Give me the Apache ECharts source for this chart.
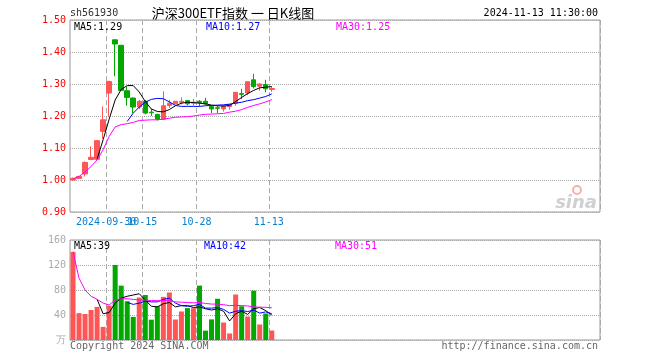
<!DOCTYPE html>
<html><head><meta charset="utf-8">
<script src="https://cdn.jsdelivr.net/npm/echarts@6/dist/echarts.min.js"></script>
<style>html,body{margin:0;padding:0;background:#fff}#c{width:660px;height:360px}</style>
</head><body><div id="c"></div>
<script>
// ---- data ----
const dates = ['2024-09-20','2024-09-23','2024-09-24','2024-09-25','2024-09-26','2024-09-27','2024-09-30',
  '2024-10-08','2024-10-09','2024-10-10','2024-10-11','2024-10-14','2024-10-15','2024-10-16','2024-10-17','2024-10-18',
  '2024-10-21','2024-10-22','2024-10-23','2024-10-24','2024-10-25','2024-10-28','2024-10-29','2024-10-30','2024-10-31',
  '2024-11-01','2024-11-04','2024-11-05','2024-11-06','2024-11-07','2024-11-08','2024-11-11','2024-11-12','2024-11-13'];
const opens  = [1.000,1.005,1.019,1.064,1.065,1.152,1.272,1.438,1.421,1.279,1.256,1.228,1.246,1.212,1.205,1.190,1.233,1.238,1.243,1.248,1.240,1.246,1.246,1.230,1.226,1.222,1.230,1.240,1.270,1.272,1.313,1.293,1.298,1.283];
const closes = [1.005,1.011,1.055,1.071,1.123,1.188,1.308,1.425,1.280,1.258,1.228,1.246,1.209,1.210,1.190,1.232,1.240,1.246,1.246,1.238,1.243,1.242,1.238,1.222,1.224,1.231,1.236,1.274,1.268,1.307,1.292,1.300,1.285,1.286];
const lows   = [0.998,1.003,1.011,1.062,1.060,1.129,1.199,1.324,1.278,1.232,1.209,1.222,1.205,1.200,1.186,1.188,1.225,1.236,1.236,1.233,1.232,1.230,1.234,1.209,1.209,1.214,1.220,1.232,1.253,1.265,1.286,1.279,1.274,1.276];
const highs  = [1.008,1.013,1.058,1.105,1.125,1.230,1.310,1.440,1.421,1.292,1.258,1.250,1.250,1.222,1.207,1.277,1.250,1.247,1.258,1.250,1.253,1.250,1.257,1.232,1.233,1.234,1.238,1.275,1.285,1.308,1.332,1.302,1.313,1.291];
const priceMA5  = ['-','-','-','-',1.065,1.126,1.190,1.250,1.283,1.295,1.295,1.275,1.245,1.222,1.214,1.213,1.220,1.232,1.240,1.243,1.242,1.240,1.238,1.234,1.232,1.231,1.233,1.245,1.258,1.270,1.280,1.288,1.290,1.292];
const priceMA10 = ['-','-','-','-','-','-','-','-','-',1.183,1.209,1.228,1.243,1.252,1.255,1.254,1.244,1.233,1.230,1.230,1.230,1.230,1.232,1.233,1.234,1.235,1.237,1.240,1.243,1.248,1.251,1.256,1.261,1.269];
const priceMA30 = [1.004,1.011,1.025,1.042,1.063,1.095,1.136,1.166,1.173,1.176,1.180,1.186,1.187,1.188,1.188,1.190,1.193,1.196,1.197,1.198,1.200,1.203,1.205,1.206,1.207,1.208,1.212,1.215,1.220,1.227,1.233,1.238,1.244,1.251];
const volumes = [141,43,41.6,48,53,21,55,120,87,62,37,68,72,32.5,54,69,76,32.8,45.6,51,51,87,15,33,66,28,10.4,72.8,54,37.6,79,24.8,42.4,15.2];
const volMA5  = ['-','-','-','-',65,42,44,59,67,70,72,74,64,54,53,58,60,53,55,55,52,53,50,48,50,46,30.5,42,46,41,50,52,47,40];
const volMA10 = ['-','-','-','-','-','-','-','-','-',60,57,59,62,61,61,65,67,59,55,54,55,57,51,51,52,49,43,46,47,45.5,48,43,45,42];
const volMA30 = [141,99,80,70,65,59,56,64,66,66,65,64,64,63,63,63,63,61,60.5,60,59.5,60,58.5,57.5,57.5,56.5,55,55.5,55,54.5,53,52.5,52.3,51.5];
const tickDates = ['2024-09-30','2024-10-15','2024-10-28','2024-11-13'];
const tickTexts = ['2024-09-30','10-15','10-28','11-13'];
const priceTicks = [0.90,1.50,0.10];
const volTicks = [0,160,40];
const priceMALabels = ['MA5:1.29','MA10:1.27','MA30:1.25'];
const volMALabels = ['MA5:39','MA10:42','MA30:51'];
const headerLeft = 'sh561930';
const headerTitle = '沪深300ETF指数 一 日K线图';
const headerTime = '2024-11-13 11:30:00';
const footLeft = 'Copyright 2024 SINA.COM';
const footRight = 'http://finance.sina.com.cn';

// ---- styling ----
const SLOTS = 88;
const RED = '#ff5555', GREEN = '#00a800';
const MONO = '"DejaVu Sans Mono", "Liberation Mono", monospace';
const axisCats = dates.concat(new Array(SLOTS - dates.length).fill(''));
const tickSet = {};
tickDates.forEach((d, i) => { tickSet[d] = tickTexts[i]; });
const showTick = (idx, val) => tickSet[val] !== undefined;
// labels split over two stacked axes so overlapping labels are both drawn
const firstOnly = (idx, val) => val === tickDates[0];
const restOnly = (idx, val) => tickSet[val] !== undefined && val !== tickDates[0];

const candleData = dates.map((d, i) => [opens[i], closes[i], lows[i], highs[i]]);
const volData = volumes.map((v, i) => ({ value: v, itemStyle: { color: closes[i] >= opens[i] ? RED : GREEN } }));

function xAx(grid, labelFn, splitFn) {
  return {
    type: 'category', gridIndex: grid, data: axisCats, boundaryGap: true, position: 'bottom', offset: 0,
    axisLine: { show: false }, axisTick: { show: false },
    axisLabel: {
      show: !!labelFn, interval: labelFn || showTick, formatter: v => tickSet[v] || '', hideOverlap: false,
      color: '#0a7fd0', fontFamily: MONO, fontSize: 10, margin: 5, padding: [0, 6, 0, 0]
    },
    splitLine: { show: !!splitFn, interval: splitFn || showTick, lineStyle: { color: '#aaa', type: [5, 3], width: 1 } }
  };
}
function maLine(name, data, color, x, y) {
  return { name, type: 'line', data, xAxisIndex: x, yAxisIndex: y, showSymbol: false, symbol: 'none',
    lineStyle: { color, width: 1 }, itemStyle: { color }, animation: false, z: 5 };
}
function txt(x, y, text, color, opts) {
  return { type: 'text', x, y, style: Object.assign({ text, fill: color, font: '10px ' + MONO, textVerticalAlign: 'middle' }, opts || {}), z: 100 };
}

const chart = echarts.init(document.getElementById('c'), null, { renderer: 'canvas' });
chart.setOption({
  animation: false,
  backgroundColor: '#fff',
  grid: [
    { left: 70, top: 20, width: 530, height: 192, show: true, borderColor: '#999', borderWidth: 1, backgroundColor: 'transparent' },
    { left: 70, top: 240, width: 530, height: 100, show: true, borderColor: '#999', borderWidth: 1, backgroundColor: 'transparent' }
  ],
  xAxis: [xAx(0, restOnly, showTick), xAx(1, null, showTick), xAx(0, firstOnly, null)],
  yAxis: [
    { type: 'value', gridIndex: 0, min: priceTicks[0], max: priceTicks[1], interval: priceTicks[2],
      axisLine: { show: false }, axisTick: { show: false },
      axisLabel: { color: '#ff0000', fontFamily: MONO, fontSize: 10, margin: 4, formatter: v => v.toFixed(2) },
      splitLine: { show: true, lineStyle: { color: '#aaa', type: [1, 1], width: 1 } } },
    { type: 'value', gridIndex: 1, min: volTicks[0], max: volTicks[1], interval: volTicks[2],
      axisLine: { show: false }, axisTick: { show: false },
      axisLabel: { color: '#aaa', fontFamily: MONO, fontSize: 10, margin: 4, formatter: v => v === 0 ? '万' : String(v) },
      splitLine: { show: true, lineStyle: { color: '#aaa', type: [1, 1], width: 1 } } }
  ],
  series: [
    { type: 'candlestick', data: candleData, xAxisIndex: 0, yAxisIndex: 0, barWidth: 5,
      itemStyle: { color: RED, color0: GREEN, borderColor: RED, borderColor0: GREEN, borderWidth: 1 }, z: 3 },
    maLine('MA5', priceMA5, '#000000', 0, 0),
    maLine('MA10', priceMA10, '#0000ff', 0, 0),
    maLine('MA30', priceMA30, '#ff00ff', 0, 0),
    { type: 'bar', data: volData, xAxisIndex: 1, yAxisIndex: 1, barWidth: 5, z: 3 },
    maLine('VMA5', volMA5, '#000000', 1, 1),
    maLine('VMA10', volMA10, '#0000ff', 1, 1),
    maLine('VMA30', volMA30, '#ff00ff', 1, 1)
  ],
  graphic: [
    txt(70, 13, headerLeft, '#333'),
    { type: 'text', x: 233, y: 13, style: { text: headerTitle, fill: '#000', font: '13px "Noto Sans CJK SC"', textAlign: 'center', textVerticalAlign: 'middle' }, z: 100 },
    txt(598, 13, headerTime, '#000', { textAlign: 'right' }),
    txt(74, 27, priceMALabels[0], '#000'),
    txt(206, 27, priceMALabels[1], '#0000ff'),
    txt(336, 27, priceMALabels[2], '#ff00ff'),
    txt(74, 246, volMALabels[0], '#000'),
    txt(204, 246, volMALabels[1], '#0000ff'),
    txt(335, 246, volMALabels[2], '#ff00ff'),
    txt(70, 346, footLeft, '#666'),
    txt(598, 346, footRight, '#666', { textAlign: 'right' }),
    { type: 'text', x: 597, y: 203, style: { text: 'sina', fill: '#d0d0d0', font: 'italic bold 18px "DejaVu Sans"', textAlign: 'right', textVerticalAlign: 'middle' }, z: 1 },
    { type: 'circle', shape: { cx: 577, cy: 190, r: 4 }, style: { fill: 'none', stroke: '#f5b0b0', lineWidth: 2 }, z: 1 }
  ]
});
</script></body></html>
